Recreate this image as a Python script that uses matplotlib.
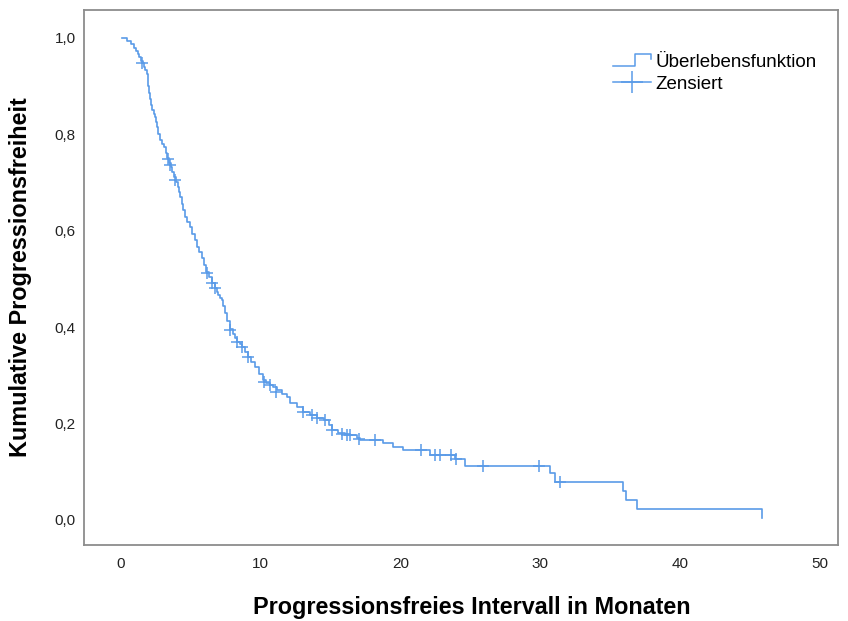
import matplotlib
matplotlib.use('Agg')
import matplotlib.pyplot as plt
from matplotlib.lines import Line2D
from matplotlib.legend_handler import HandlerBase

plt.rcParams['font.family'] = ['Liberation Sans', 'DejaVu Sans']

# Treppenkurve (Zeit in Monaten, kumulative Progressionsfreiheit)
zeit = [0.10, 0.45, 0.70, 0.90, 1.10, 1.20, 1.30, 1.40, 1.55, 1.65, 1.75, 1.85,
        1.90, 1.93, 2.00, 2.08, 2.15, 2.22, 2.35, 2.45, 2.52, 2.58, 2.68, 2.79,
        2.95, 3.10, 3.20, 3.30, 3.45, 3.55, 3.65, 3.80, 3.95, 4.05, 4.15, 4.25,
        4.35, 4.45, 4.58, 4.75, 4.94, 5.10, 5.28, 5.44, 5.60, 5.79, 5.95, 6.10,
        6.30, 6.50, 6.72, 6.85, 6.94, 7.10, 7.22, 7.32, 7.44, 7.60, 7.80, 8.00,
        8.15, 8.30, 8.50, 8.66, 8.85, 9.08, 9.30, 9.59, 9.85, 10.16, 10.40, 10.66,
        10.90, 11.16, 11.50, 11.87, 12.10, 12.60, 13.00, 13.50, 14.00, 14.50, 14.90,
        15.10, 15.50, 16.00, 16.40, 16.90, 17.10, 18.74, 19.46, 20.17, 22.10, 23.90,
        24.60, 30.69, 31.04, 35.91, 36.12, 36.91, 45.85]
ueberleben = [1.000, 0.993, 0.987, 0.980, 0.973, 0.966, 0.960, 0.953, 0.947, 0.940, 0.933, 0.926,
              0.913, 0.900, 0.886, 0.873, 0.860, 0.851, 0.843, 0.836, 0.825, 0.815, 0.801, 0.788,
              0.781, 0.774, 0.762, 0.751, 0.741, 0.733, 0.722, 0.712, 0.702, 0.691, 0.680, 0.670,
              0.656, 0.643, 0.629, 0.619, 0.608, 0.594, 0.580, 0.566, 0.555, 0.544, 0.528, 0.515,
              0.503, 0.492, 0.481, 0.472, 0.467, 0.461, 0.456, 0.443, 0.429, 0.413, 0.397, 0.385,
              0.377, 0.369, 0.364, 0.359, 0.349, 0.338, 0.328, 0.317, 0.303, 0.290, 0.285, 0.280,
              0.275, 0.270, 0.262, 0.255, 0.243, 0.234, 0.224, 0.218, 0.212, 0.207, 0.196,
              0.186, 0.180, 0.178, 0.176, 0.170, 0.166, 0.160, 0.151, 0.145, 0.135, 0.127,
              0.112, 0.098, 0.079, 0.060, 0.041, 0.023, 0.005]

# zensierte Faelle
zens_zeit = [1.50, 3.35, 3.50, 3.90, 6.15, 6.50, 6.75, 7.80, 8.30, 8.66, 9.08,
             10.20, 10.66, 11.10, 13.00, 13.70, 14.00, 14.60, 15.10, 15.80, 16.20,
             16.40, 17.00, 18.20, 21.50, 22.50, 22.80, 23.60, 24.00, 25.90, 29.90, 31.40]
zens_wert = [0.948, 0.748, 0.737, 0.706, 0.512, 0.492, 0.481, 0.394, 0.369, 0.359, 0.338,
             0.287, 0.280, 0.265, 0.224, 0.218, 0.212, 0.207, 0.186, 0.178, 0.176,
             0.176, 0.168, 0.166, 0.145, 0.135, 0.135, 0.135, 0.127, 0.112, 0.112, 0.079]

xticks = [0, 10, 20, 30, 40, 50]
yticks = [0.0, 0.2, 0.4, 0.6, 0.8, 1.0]
ytick_labels = ['0,0', '0,2', '0,4', '0,6', '0,8', '1,0']

farbe = '#5a9be8'


class StufenHandler(HandlerBase):
    def create_artists(self, legend, orig_handle, xdescent, ydescent, width, height, fontsize, trans):
        lo = -ydescent + height * 0.1
        hi = -ydescent + height * 0.95
        xs = [-xdescent, -xdescent + width * 0.58, -xdescent + width * 0.58,
              -xdescent + width, -xdescent + width]
        ys = [lo, lo, hi, hi, hi - height * 0.35]
        l = Line2D(xs, ys, color=farbe, lw=1.1, transform=trans)
        return [l]


fig = plt.figure(figsize=(8.48, 6.21), dpi=100)
ax = fig.add_axes([0.099, 0.1224, 0.889, 0.8615])

ax.step(zeit, ueberleben, where='post', color=farbe, lw=1.2)
ax.plot(zens_zeit, zens_wert, linestyle='none', marker='+', markersize=9,
        markeredgewidth=1.1, color=farbe)

ax.set_xlim(-2.65, 51.3)
ax.set_ylim(-0.052, 1.058)
ax.set_xticks(xticks)
ax.set_yticks(yticks)
ax.set_yticklabels(ytick_labels)
ax.tick_params(length=0, labelsize=11, colors='#222222')
ax.tick_params(axis='x', pad=9)
ax.tick_params(axis='y', pad=6)
for s in ax.spines.values():
    s.set_color('#8c8c8c')
    s.set_linewidth(1.3)

ax.set_xlabel('Progressionsfreies Intervall in Monaten', fontsize=16.8, fontweight='bold')
ax.set_ylabel('Kumulative Progressionsfreiheit', fontsize=16.8, fontweight='bold')
ax.xaxis.set_label_coords(0.5146, -0.095)
ax.yaxis.set_label_coords(-0.069, 0.5)

h1 = Line2D([], [], color=farbe)
h2 = Line2D([], [], color=farbe, lw=1.1, marker='+', markersize=16, markeredgewidth=1.1)
ax.legend([h1, h2], ['Überlebensfunktion', 'Zensiert'],
          handler_map={h1: StufenHandler()},
          loc='upper left', bbox_to_anchor=(0.6897, 0.9356), frameon=False, borderpad=0,
          fontsize=13.5, handlelength=2.0, handletextpad=0.27, labelspacing=0.25)

fig.savefig('out.png', dpi=100)
